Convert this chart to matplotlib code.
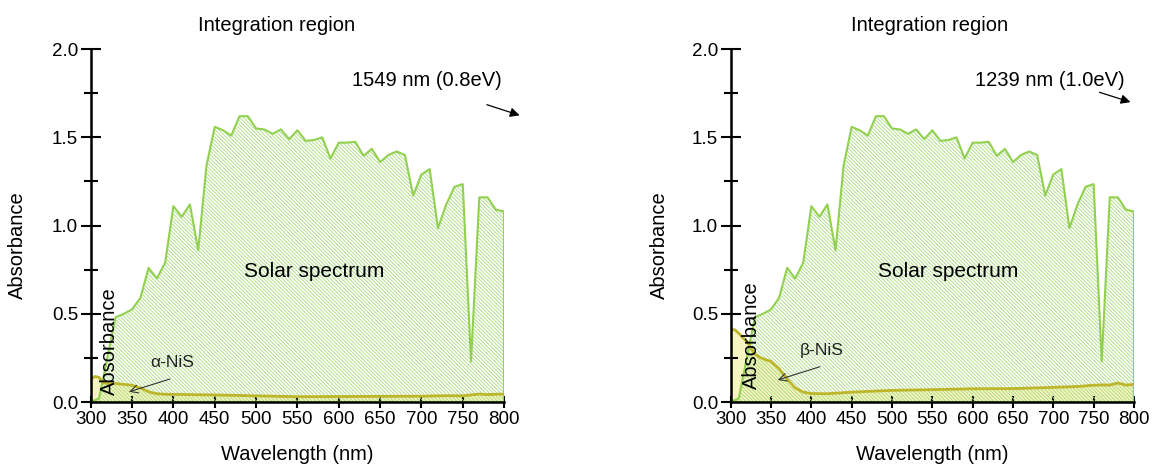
import numpy as np
import matplotlib
matplotlib.use("Agg")
import matplotlib.pyplot as plt
from matplotlib.ticker import MultipleLocator, FormatStrFormatter

plt.rcParams['font.family'] = ['Liberation Sans', 'DejaVu Sans']
plt.rcParams['hatch.linewidth'] = 0.6

# AM1.5-like solar spectrum (10 nm steps)
solar_wl = [300, 310, 320, 330, 340, 350, 360, 370, 380, 390,
            400, 410, 420, 430, 440, 450, 460, 470, 480, 490,
            500, 510, 520, 530, 540, 550, 560, 570, 580, 590,
            600, 610, 620, 630, 640, 650, 660, 670, 680, 690,
            700, 710, 720, 730, 740, 750, 760, 770, 780, 790, 800]
solar = [0.00, 0.02, 0.25, 0.48, 0.50, 0.525, 0.59, 0.76, 0.70, 0.79,
         1.11, 1.05, 1.12, 0.86, 1.34, 1.56, 1.54, 1.51, 1.62, 1.62,
         1.55, 1.545, 1.52, 1.545, 1.49, 1.54, 1.48, 1.485, 1.50, 1.38,
         1.47, 1.47, 1.475, 1.395, 1.435, 1.36, 1.40, 1.42, 1.40, 1.17,
         1.29, 1.32, 0.985, 1.12, 1.22, 1.235, 0.23, 1.16, 1.16, 1.09, 1.08]

# NiS absorbance curves
nis_wl = [300, 305, 310, 315, 320, 330, 340, 350, 360, 370, 380, 390, 400,
          420, 450, 500, 550, 600, 650, 700, 730, 750, 760, 770, 780, 790, 800]
alpha_nis = [0.13, 0.145, 0.14, 0.11, 0.105, 0.105, 0.10, 0.095, 0.08, 0.058,
             0.047, 0.044, 0.043, 0.042, 0.040, 0.035, 0.030, 0.031, 0.032,
             0.033, 0.036, 0.035, 0.040, 0.045, 0.042, 0.044, 0.045]
beta_nis = [0.41, 0.41, 0.39, 0.365, 0.345, 0.27, 0.245, 0.23, 0.19, 0.13,
            0.08, 0.056, 0.048, 0.047, 0.056, 0.066, 0.070, 0.075, 0.076,
            0.083, 0.088, 0.095, 0.097, 0.096, 0.108, 0.096, 0.10]

GREEN = '#92d050'
HATCH_GREEN = '#a6da7c'
PALE_YELLOW = '#f6f4c0'
OLIVE = '#bdb52a'
FS = 14.5

fig = plt.figure(figsize=(11.53, 4.68), dpi=100)
ax1 = fig.add_axes([0.0787, 0.141, 0.3585, 0.754])
ax2 = fig.add_axes([0.6337, 0.141, 0.3498, 0.754])


def draw_panel(ax, nis, nis_label, cutoff, title_x, cut_xy, arr_tail, arr_tip,
               lbl_xy, nis_tail, nis_tip, abs_xy):
    # NiS fill underneath, hatched solar spectrum on top
    ax.fill_between(nis_wl, 0, nis, facecolor=PALE_YELLOW, edgecolor='none', zorder=1)
    ax.fill_between(solar_wl, 0, solar, facecolor='none', edgecolor=HATCH_GREEN,
                    hatch='\\' * 9, linewidth=0, zorder=2)
    ax.fill_between(solar_wl, 0, solar, facecolor='none', edgecolor=GREEN,
                    linewidth=1.5, zorder=2)
    ax.plot(nis_wl, nis, color=OLIVE, lw=2, zorder=3)

    ax.set_xlim(300, 800)
    ax.set_ylim(0, 2.0)
    for s in ['top', 'right']:
        ax.spines[s].set_visible(False)
    for s in ['left', 'bottom']:
        ax.spines[s].set_linewidth(1.8)
        ax.spines[s].set_zorder(5)

    ax.xaxis.set_major_locator(MultipleLocator(50))
    ax.yaxis.set_major_locator(MultipleLocator(0.5))
    ax.yaxis.set_minor_locator(MultipleLocator(0.25))
    ax.yaxis.set_major_formatter(FormatStrFormatter('%.1f'))
    ax.tick_params(axis='x', direction='inout', length=9, width=1.5,
                   labelsize=13.5, pad=2)
    ax.tick_params(axis='y', which='major', direction='inout', length=14,
                   width=1.5, labelsize=13.5, pad=2)
    ax.tick_params(axis='y', which='minor', direction='inout', length=10, width=1.5)

    ax.set_xlabel('Wavelength (nm)', fontsize=FS)
    ax.set_ylabel('Absorbance', fontsize=FS)
    ax.xaxis.set_label_coords(0.5, -0.122)
    ax.yaxis.set_label_coords(-0.154, 0.446)

    ax.text(title_x, 1.068, 'Integration region', transform=ax.transAxes,
            ha='center', va='center', fontsize=FS)
    ax.text(cut_xy[0], cut_xy[1], cutoff, ha='center', va='center', fontsize=FS)
    ax.annotate('', xy=arr_tip, xytext=arr_tail, annotation_clip=False,
                arrowprops=dict(arrowstyle='-|>', color='black', lw=0.9,
                                mutation_scale=14))
    ax.text(570, 0.74, 'Solar spectrum', ha='center', va='center', fontsize=15, zorder=6)
    ax.text(abs_xy[0], abs_xy[1], 'Absorbance', rotation=90, ha='center',
            va='center', fontsize=FS, zorder=6)
    ax.text(lbl_xy[0], lbl_xy[1], nis_label, ha='center', va='center',
            fontsize=12.5, color='#222222', zorder=6)
    ax.annotate('', xy=nis_tip, xytext=nis_tail, zorder=6,
                arrowprops=dict(arrowstyle='->', color='#333333', lw=0.8,
                                mutation_scale=14))


draw_panel(ax1, alpha_nis, 'α-NiS', '1549 nm (0.8eV)', 0.45, (707, 1.82),
           (776, 1.69), (822, 1.62), (399, 0.225), (399, 0.135), (343, 0.053),
           (323, 0.343))
draw_panel(ax2, beta_nis, 'β-NiS', '1239 nm (1.0eV)', 0.492, (696, 1.824),
           (754, 1.76), (799, 1.695), (413, 0.29), (414, 0.205), (355, 0.12),
           (326, 0.38))

fig.savefig('out.png', dpi=100)
